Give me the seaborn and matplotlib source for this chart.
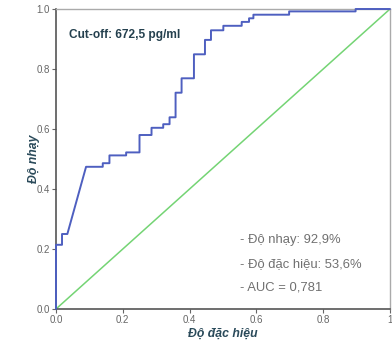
import matplotlib
matplotlib.use("Agg")
import matplotlib.pyplot as plt
import seaborn as sns
import pandas as pd

# ROC curve vertices: 1 - specificity (x) and sensitivity (y)
fpr = [0.0, 0.0, 0.018, 0.018, 0.034, 0.09, 0.14, 0.14, 0.16, 0.16, 0.21, 0.21,
       0.25, 0.25, 0.286, 0.286, 0.321, 0.321, 0.34, 0.34, 0.358, 0.358, 0.376,
       0.376, 0.413, 0.413, 0.446, 0.446, 0.464, 0.464, 0.501, 0.501, 0.556,
       0.556, 0.578, 0.578, 0.591, 0.591, 0.698, 0.698, 0.897, 0.897, 1.0]
tpr = [0.0, 0.214, 0.214, 0.25, 0.25, 0.474, 0.474, 0.486, 0.486, 0.512, 0.512,
       0.522, 0.522, 0.58, 0.58, 0.604, 0.604, 0.616, 0.616, 0.639, 0.639, 0.721,
       0.721, 0.769, 0.769, 0.849, 0.849, 0.897, 0.897, 0.929, 0.929, 0.944,
       0.944, 0.957, 0.957, 0.969, 0.969, 0.981, 0.981, 0.992, 0.992, 1.0, 1.0]
ref_x = [0.0, 1.0]
ref_y = [0.0, 1.0]
ticks = [0.0, 0.2, 0.4, 0.6, 0.8, 1.0]
x_tick_labels = ["0.0", "0.2", "0.4", "0.6", "0.8", "1"]
y_tick_labels = ["0.0", "0.2", "0.4", "0.6", "0.8", "1.0"]

cutoff_text = "Cut-off: 672,5 pg/ml"
stats_lines = ["- Độ nhạy: 92,9%", "- Độ đặc hiệu: 53,6%", "- AUC = 0,781"]

sns.set_theme(style="white")
plt.rcParams["font.family"] = ["Liberation Sans", "DejaVu Sans"]

fig = plt.figure(figsize=(3.92, 3.5), dpi=100)
ax = fig.add_axes([56 / 392, 1 - 309 / 350, 334 / 392, 300 / 350])

roc = pd.DataFrame({"fpr": fpr, "tpr": tpr})
diag = pd.DataFrame({"x": ref_x, "y": ref_y})

sns.lineplot(data=diag, x="x", y="y", ax=ax, color="#74d474", lw=1.1,
             sort=False, estimator=None)
sns.lineplot(data=roc, x="fpr", y="tpr", ax=ax, color="#4e5fc0", lw=1.4,
             sort=False, estimator=None)
for line in ax.lines[1:]:
    line.set_clip_on(False)
    line.set_zorder(5)

ax.set_xlim(0, 1)
ax.set_ylim(0, 1)
ax.set_xticks(ticks)
ax.set_yticks(ticks)
ax.set_xticklabels(x_tick_labels)
ax.set_yticklabels(y_tick_labels)
ax.tick_params(axis="both", direction="out", length=3, width=0.8,
               colors="#666666", labelsize=7, pad=1.5, left=True, bottom=True)

for side in ("left", "bottom"):
    ax.spines[side].set_color("#555555")
    ax.spines[side].set_linewidth(1.2)
for side in ("top", "right"):
    ax.spines[side].set_color("#aaaaaa")
    ax.spines[side].set_linewidth(1.0)

label_color = "#2a4a5a"
ax.set_xlabel("Độ đặc hiệu", fontsize=8.8, fontweight="bold", style="italic",
              color=label_color, labelpad=2)
ax.set_ylabel("Độ nhạy", fontsize=8.8, fontweight="bold", style="italic",
              color=label_color, labelpad=-3)

ax.text(0.04, 0.915, cutoff_text, transform=ax.transAxes, fontsize=8.6,
        fontweight="bold", color="#24404e", va="center", ha="left")

for i, line in enumerate(stats_lines):
    ax.text(0.552, 0.23 - i * 0.08, line, transform=ax.transAxes, fontsize=9.4,
            color="#707070", va="center", ha="left")

fig.savefig("out.png", dpi=100)
